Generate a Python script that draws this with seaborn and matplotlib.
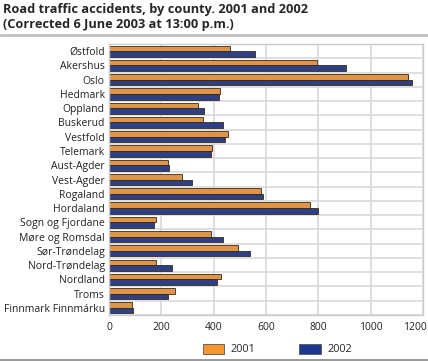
import numpy as np
import pandas as pd
import matplotlib
matplotlib.use('Agg')
import matplotlib.pyplot as plt
import matplotlib.transforms as mtransforms
import seaborn as sns
from matplotlib.lines import Line2D
from matplotlib.patches import Patch

# ------------------------------------------------------------
# data
# ------------------------------------------------------------
counties = ['Østfold', 'Akershus', 'Oslo', 'Hedmark', 'Oppland', 'Buskerud',
            'Vestfold', 'Telemark', 'Aust-Agder', 'Vest-Agder', 'Rogaland',
            'Hordaland', 'Sogn og Fjordane', 'Møre og Romsdal', 'Sør-Trøndelag',
            'Nord-Trøndelag', 'Nordland', 'Troms', 'Finnmark Finnmárku']
acc_2001 = [462, 793, 1143, 426, 340, 358, 456, 395, 225, 278, 581,
            768, 178, 391, 493, 179, 429, 252, 88]
acc_2002 = [558, 904, 1158, 420, 364, 437, 444, 391, 230, 317, 587,
            800, 173, 434, 539, 239, 411, 226, 90]
years = ['2001', '2002']
colors = ['#F7962F', '#1E3891']
xticks = [0, 200, 400, 600, 800, 1000, 1200]

df = pd.DataFrame({
    'county': counties * 2,
    'year': [years[0]] * len(counties) + [years[1]] * len(counties),
    'value': acc_2001 + acc_2002,
})

# ------------------------------------------------------------
# plot
# ------------------------------------------------------------
sns.set_style('white')
plt.rcParams['font.family'] = ['Open Sans', 'DejaVu Sans']

fig = plt.figure(figsize=(4.28, 3.61), dpi=100)
ax = fig.add_axes([0.2547, 0.1274, 0.7336, 0.7506])

sns.barplot(data=df, x='value', y='county', hue='year', order=counties,
            hue_order=years, palette=colors, orient='h', width=0.78,
            edgecolor='#3a2a1a', linewidth=0.6, legend=False, ax=ax)

ax.set_xlim(0, 1200)
ax.set_ylim(len(counties) - 0.5, -0.5)
ax.set_xticks(xticks)
ax.set_xticklabels([str(t) for t in xticks])
ax.set_yticks(range(len(counties)))
ax.set_yticklabels(counties)
ax.set_yticks(np.arange(-0.5, len(counties), 1), minor=True)
ax.set_xlabel('')
ax.set_ylabel('')

# grid
ax.set_axisbelow(True)
ax.grid(axis='x', which='major', color='#d9d9d9', lw=1.2)
ax.grid(axis='y', which='minor', color='#d9d9d9', lw=1.2)
ax.tick_params(axis='both', which='both', length=0, labelsize=7.5,
               colors='#222222', pad=3)
ax.tick_params(axis='x', pad=5)
for s in ax.spines.values():
    s.set_color('#cccccc')
    s.set_linewidth(1.0)

# last x label is pulled in so it stays inside the figure
last = ax.get_xticklabels()[-1]
last.set_horizontalalignment('right')
last.set_transform(last.get_transform() +
                   mtransforms.ScaledTranslation(3 / 72, 0, fig.dpi_scale_trans))

# title
fig.text(0.008, 0.993, 'Road traffic accidents, by county. 2001 and 2002\n'
         '(Corrected 6 June 2003 at 13:00 p.m.)',
         ha='left', va='top', fontsize=9.2, fontweight='bold', linespacing=1.2)
fig.add_artist(Line2D([0, 1], [0.903, 0.903], color='#bbbbbb', lw=1.8,
                      transform=fig.transFigure))
fig.add_artist(Line2D([0, 1], [0.003, 0.003], color='#888888', lw=1.2,
                      transform=fig.transFigure))

# legend
handles = [Patch(facecolor=c, edgecolor='#555555', lw=0.6) for c in colors]
fig.legend(handles, years, loc='center', bbox_to_anchor=(0.648, 0.032),
           ncol=2, frameon=False, fontsize=7.8, handlelength=2.0,
           handleheight=1.1, columnspacing=4.0, handletextpad=0.6)

plt.savefig('out.png', dpi=100)
